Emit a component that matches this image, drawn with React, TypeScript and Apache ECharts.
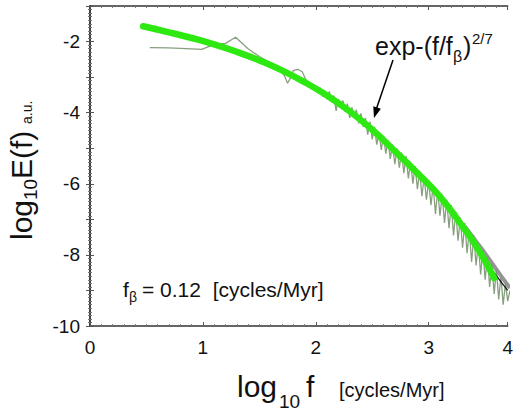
import React, { useEffect, useRef } from "react";
import * as echarts from "echarts";

// fit curve exp-(f/fβ)^{2/7} : [log10 f, log10 E]
const fitGreen: number[][] = [
  [0.47, -1.57], [0.7, -1.74], [0.9, -1.9], [1.1, -2.08], [1.3, -2.29], [1.5, -2.53],
  [1.7, -2.81], [1.9, -3.14], [2.1, -3.52], [2.3, -3.96], [2.5, -4.48], [2.7, -5.08],
  [2.9, -5.7], [3.1, -6.36], [3.3, -7.2], [3.45, -7.9], [3.58, -8.65],
];
const fitBlack: number[][] = [
  [2.0, -3.33], [2.3, -3.96], [2.6, -4.77], [2.9, -5.7], [3.2, -6.76], [3.4, -7.66],
  [3.58, -8.5], [3.7, -9.0],
];
const grayBand: number[][] = [
  [3.32, -7.2], [3.42, -7.62], [3.52, -8.05], [3.62, -8.5], [3.72, -8.93],
];
const spectrum: number[][] = [
  [0.53, -2.17], [0.7, -2.18], [0.85, -2.2], [0.99, -2.22], [1.05, -2.14], [1.12, -2.07],
  [1.2, -2.05], [1.29, -1.88], [1.4, -2.2], [1.5, -2.42], [1.6, -2.6], [1.67, -2.76],
  [1.72, -2.95], [1.75, -3.17], [1.78, -3.0], [1.8, -2.82], [1.84, -2.78], [1.88, -2.85],
  [1.93, -3.2], [1.97, -3.3],
  [2.0, -3.25], [2.02, -3.45], [2.04, -3.3], [2.06, -3.55], [2.08, -3.38], [2.1, -3.62],
  [2.12, -3.4], [2.14, -3.7], [2.16, -3.52], [2.18, -3.95], [2.2, -3.62], [2.22, -3.8],
  [2.24, -3.66], [2.26, -3.98], [2.28, -3.75], [2.3, -4.15], [2.32, -3.85], [2.34, -4.1],
  [2.36, -3.92], [2.38, -4.3], [2.4, -4.02], [2.42, -4.4], [2.44, -4.15], [2.46, -4.62],
  [2.48, -4.25], [2.5, -4.75], [2.52, -4.4], [2.54, -4.9], [2.56, -4.55], [2.58, -5.05],
  [2.6, -4.65], [2.62, -5.15], [2.64, -4.78], [2.66, -5.3], [2.68, -4.9], [2.7, -5.45],
  [2.72, -5.0], [2.74, -5.55], [2.76, -5.12], [2.78, -5.7], [2.8, -5.22], [2.82, -5.85],
  [2.84, -5.38], [2.86, -6.0], [2.88, -5.5], [2.9, -6.15], [2.92, -5.65], [2.94, -6.35],
  [2.96, -5.8], [2.98, -6.45], [3.0, -5.92], [3.02, -6.6], [3.04, -6.05], [3.06, -6.85],
  [3.08, -6.18], [3.1, -6.9], [3.12, -6.3], [3.14, -7.1], [3.16, -6.45], [3.18, -7.25],
  [3.2, -6.6], [3.22, -7.45], [3.24, -6.78], [3.26, -7.6], [3.28, -6.95], [3.3, -7.8],
  [3.32, -7.1], [3.34, -7.95], [3.36, -7.3], [3.38, -8.2], [3.4, -7.45], [3.42, -8.3],
  [3.44, -7.65], [3.46, -8.55], [3.48, -7.85], [3.5, -8.7], [3.52, -8.05], [3.54, -8.9],
  [3.56, -8.25], [3.58, -9.1], [3.6, -8.4], [3.62, -9.25], [3.64, -8.6], [3.66, -9.4],
  [3.68, -8.8], [3.7, -9.3], [3.72, -9.0],
];

const FONT = "Liberation Sans, Arial, sans-serif";

function txt(text: string, x: number, y: number, size: number, extra: any = {}) {
  return {
    type: "text",
    x,
    y,
    z: 10,
    ...extra,
    style: {
      text,
      fontFamily: FONT,
      fontSize: size,
      fill: "#111",
      align: "left",
      verticalAlign: "middle",
      ...(extra.style || {}),
    },
  };
}

export default function App() {
  const ref = useRef<HTMLDivElement>(null);
  useEffect(() => {
    if (!ref.current) return;
    const chart = echarts.init(ref.current, undefined, { renderer: "svg" });
    const frameLine = { show: true, lineStyle: { color: "#333", width: 1.5 } };
    const baseX = {
      type: "value" as const,
      min: 0,
      max: 3.7,
      interval: 1,
      axisLine: frameLine,
      axisTick: { show: true, inside: true, length: 4, lineStyle: { color: "#555" } },
      minorTick: { show: true, splitNumber: 10, length: 2, lineStyle: { color: "#777" } },
      splitLine: { show: false },
    };
    const baseY = {
      type: "value" as const,
      min: -10,
      max: -1,
      interval: 1,
      axisLine: frameLine,
      axisTick: { show: true, inside: true, length: 4, lineStyle: { color: "#555" } },
      minorTick: { show: true, splitNumber: 10, length: 2, lineStyle: { color: "#777" } },
      splitLine: { show: false },
    };
    const rot = { rotation: Math.PI / 2 };
    chart.setOption({
      animation: false,
      backgroundColor: "#fff",
      grid: { left: 90, right: 4, top: 6, bottom: 88, containLabel: false },
      xAxis: [
        {
          ...baseX,
          position: "bottom",
          axisLabel: {
            show: true,
            margin: 12,
            fontFamily: FONT,
            fontSize: 19,
            color: "#111",
            formatter: (v: number) => (v > 3.5 ? "4" : String(Math.round(v))),
          },
        },
        { ...baseX, position: "top", axisLabel: { show: false } },
      ],
      yAxis: [
        {
          ...baseY,
          position: "left",
          axisLabel: {
            show: true,
            margin: 10,
            fontFamily: FONT,
            fontSize: 19,
            color: "#111",
            formatter: (v: number) => (Math.round(v) % 2 === 0 ? String(Math.round(v)) : ""),
          },
        },
        { ...baseY, position: "right", axisLabel: { show: false } },
      ],
      series: [
        {
          type: "line",
          data: spectrum,
          symbol: "none",
          lineStyle: { color: "#7a9570", width: 1.3, opacity: 0.9 },
          z: 2,
        },
        {
          type: "line",
          data: fitBlack,
          symbol: "none",
          smooth: true,
          lineStyle: { color: "#111", width: 1.2 },
          z: 3,
        },
        {
          type: "line",
          data: grayBand,
          symbol: "none",
          smooth: true,
          lineStyle: { color: "#8a8a8a", width: 4, opacity: 0.9 },
          z: 3,
        },
        {
          type: "line",
          data: fitGreen,
          symbol: "none",
          smooth: true,
          lineStyle: { color: "#2ee812", width: 6.5, cap: "round" },
          z: 4,
        },
      ],
      graphic: [
        // formula annotation
        txt("exp-(f/f", 375, 46, 25),
        txt("β", 453, 56, 16),
        txt(")", 463, 46, 25),
        txt("2/7", 472, 38, 15),
        {
          type: "line",
          z: 10,
          shape: { x1: 393, y1: 60, x2: 376, y2: 110 },
          style: { stroke: "#000", lineWidth: 1.5 },
        },
        {
          type: "polygon",
          z: 10,
          shape: { points: [[374, 118], [380.9, 108.7], [373.3, 106.3]] },
          style: { fill: "#000" },
        },
        // f_beta annotation
        txt("f", 123, 289, 21),
        txt("β", 129, 297, 14),
        txt("= 0.12  [cycles/Myr]", 142, 289, 21),
        // x axis title
        txt("log", 237, 386, 30),
        txt("10", 279, 401, 19),
        txt("f", 306, 386, 30),
        txt("[cycles/Myr]", 339, 390, 20),
        // y axis title (rotated, reads bottom to top)
        txt("log", 21, 240, 30, rot),
        txt("10", 30, 200, 19, rot),
        txt("E(f)", 21, 179, 30, rot),
        txt("a.u.", 27, 124, 14, rot),
      ],
    });
    return () => chart.dispose();
  }, []);
  return <div ref={ref} style={{ width: 516, height: 414, position: "absolute", left: 0, top: 0 }} />;
}
